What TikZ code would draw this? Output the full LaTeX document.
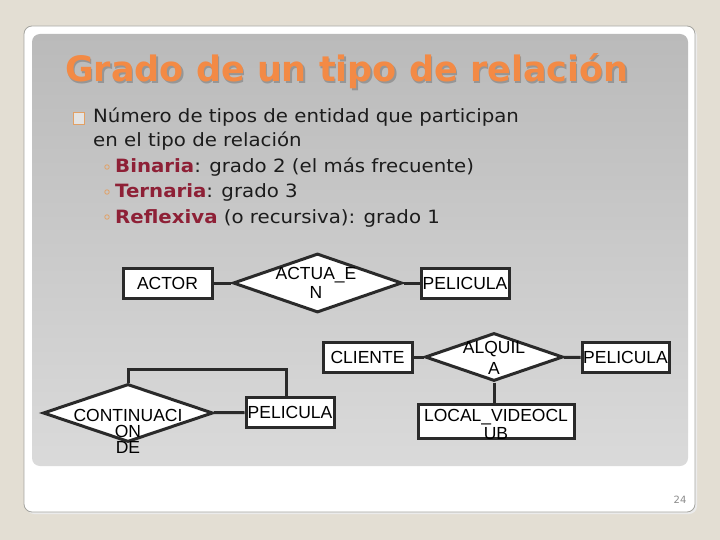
\documentclass[tikz,border=0pt]{standalone}
\usepackage{fontspec}
\setmainfont{DejaVu Sans}
\newfontfamily\erfont{Liberation Sans}
\newfontfamily\bodyfont{DejaVu Sans}[FakeStretch=1.08]
\newfontfamily\titlefont{DejaVu Sans}
\usetikzlibrary{shapes.geometric}
\definecolor{bgbeige}{RGB}{227,222,211}
\definecolor{cardedge}{RGB}{165,165,160}
\definecolor{panelTop}{RGB}{186,186,186}
\definecolor{panelBot}{RGB}{218,218,218}
\definecolor{titleorange}{RGB}{243,138,69}
\definecolor{titleshadow}{RGB}{150,150,150}
\definecolor{darkred}{RGB}{142,32,54}
\definecolor{bulorange}{RGB}{226,160,100}
\definecolor{bodytext}{RGB}{28,28,28}
\definecolor{erline}{RGB}{42,42,42}
\definecolor{pagenum}{RGB}{140,140,140}
\tikzset{
  bodyline/.style={anchor=base west, inner sep=0pt, text=bodytext, font=\bodyfont\fontsize{18.3}{22}\selectfont},
  sqbullet/.style={draw=bulorange, line width=1pt, fill=white!60!panelTop, minimum width=11pt, minimum height=12pt, inner sep=0pt},
  subbullet/.style={circle, draw=bulorange, line width=0.8pt, minimum size=4.5pt, inner sep=0pt},
  ent/.style={draw=erline, fill=white, line width=3pt, minimum width=#1, minimum height=30pt, inner sep=0pt, text=black, font=\erfont\fontsize{17.5}{19}\selectfont},
  rel/.style n args={2}{diamond, draw=erline, fill=white, line width=3pt, minimum width=#1, minimum height=#2, inner sep=0pt},
  reltxt/.style={inner sep=0pt, align=center, text=black, font=\erfont\fontsize{17.5}{#1}\selectfont},
  conn/.style={draw=erline, line width=3pt},
}
\begin{document}
\begin{tikzpicture}[x=1pt,y=-1pt]
\useasboundingbox (0,0) rectangle (720,540);
\fill[bgbeige] (0,0) rectangle (720,540);
% card
\fill[black!8, rounded corners=8pt] (26,28) rectangle (697,514);
\filldraw[fill=white, draw=cardedge, line width=0.8pt, rounded corners=8pt] (24,26) rectangle (695,512);
\shade[top color=panelTop, bottom color=panelBot, rounded corners=8pt] (32,34) rectangle (688,466);
% title
\node[anchor=base west, inner sep=0pt, text=titleshadow, font=\titlefont\bfseries\fontsize{35}{40}\selectfont] (titleshadow) at (66.5,83.5) {Grado de un tipo de relación};
\node[anchor=base west, inner sep=0pt, text=titleorange, font=\titlefont\bfseries\fontsize{35}{40}\selectfont] (title) at (65,82) {Grado de un tipo de relación};
% bullets
\node[sqbullet] (sq1) at (79,118.5) {};
\node[bodyline] (l1) at (93,123) {Número de tipos de entidad que participan};
\node[bodyline] (l2) at (93,147) {en el tipo de relación};
\node[subbullet] (b1) at (107,167) {};
\node[bodyline] (l3) at (115,173) {{\color{darkred}\bfseries Binaria}: grado 2 (el más frecuente)};
\node[subbullet] (b2) at (107,192) {};
\node[bodyline] (l4) at (115,198) {{\color{darkred}\bfseries Ternaria}: grado 3};
\node[subbullet] (b3) at (107,217) {};
\node[bodyline] (l5) at (115,223) {{\color{darkred}\bfseries Reflexiva} (o recursiva): grado 1};
% row 1
\node[ent=89pt] (actor) at (167.5,283) {ACTOR};
\node[rel={169pt}{59pt}] (actua) at (317.5,283) {};
\node[reltxt=19pt] (actuaT) at (316,282.5) {ACTUA\_E\\N};
\node[ent=88pt] (pel1) at (465,283) {PELICULA};
\draw[conn] (actor) -- (actua);
\draw[conn] (actua) -- (pel1);
% row 2
\node[ent=89pt] (cliente) at (367.5,357) {CLIENTE};
\node[rel={138pt}{48pt}] (alquila) at (494,357) {};
\node[reltxt=21pt] (alquilaT) at (494,357.5) {ALQUIL\\A};
\node[ent=87pt] (pel2) at (625.5,357.5) {PELICULA};
\node[ent=156pt, minimum height=34pt] (local) at (496,421) {};
\node[reltxt=18pt] (localT) at (496,424) {LOCAL\_VIDEOCL\\UB};
\draw[conn] (cliente) -- (alquila);
\draw[conn] (alquila) -- (pel2);
\draw[conn] (alquila.south) -- (alquila.south |- local.north);
% row 3
\node[rel={170pt}{58pt}] (contin) at (128,413) {};
\node[reltxt=16pt] (continT) at (128,431) {CONTINUACI\\ON\\DE};
\node[ent=88pt] (pel3) at (290,412.5) {PELICULA};
\coordinate (loop) at (286,369);
\draw[conn] (contin) -- (pel3);
\draw[conn] (contin.north) |- (loop) -- (loop |- pel3.north);
% page number
\node[inner sep=0pt, text=pagenum, font=\fontsize{10}{12}\selectfont] (page) at (680,500) {24};
\end{tikzpicture}
\end{document}
